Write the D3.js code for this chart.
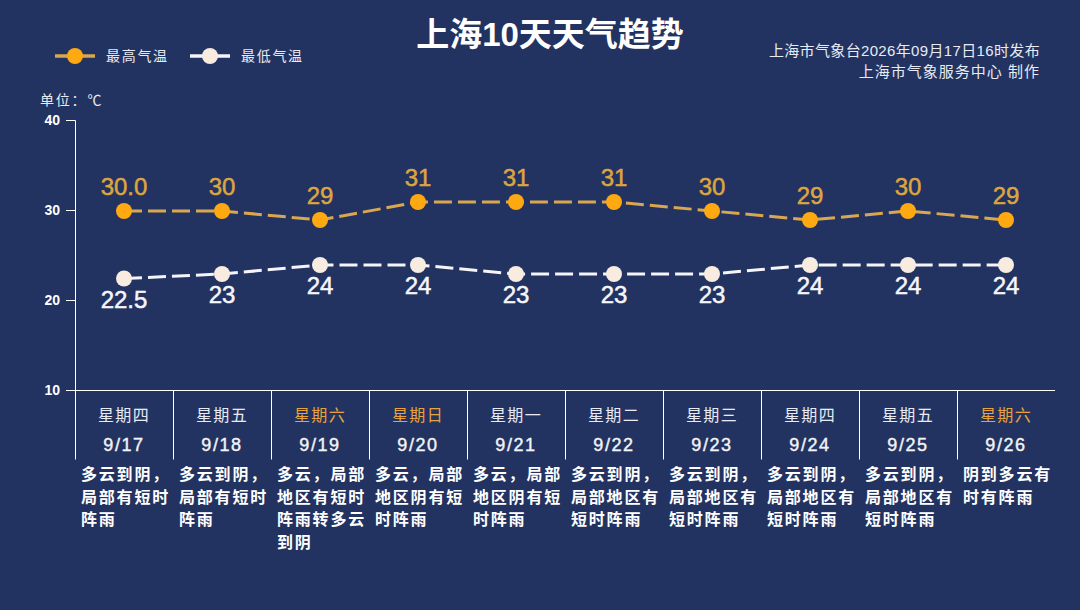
<!DOCTYPE html>
<html>
<head>
<meta charset="utf-8">
<script src="https://cdn.jsdelivr.net/npm/d3@7"></script>
<style>
  html, body { margin: 0; padding: 0; background: #223361; }
  svg { display: block; }
  text { font-family: "Liberation Sans", "Noto Sans CJK SC", sans-serif; }
</style>
</head>
<body>
<svg id="chart"></svg>
<script>
const dates = ['9/17', '9/18', '9/19', '9/20', '9/21', '9/22', '9/23', '9/24', '9/25', '9/26'];
const weekdays = ['星期四', '星期五', '星期六', '星期日', '星期一', '星期二', '星期三', '星期四', '星期五', '星期六'];
const highs = [30.0, 30, 29, 31, 31, 31, 30, 29, 30, 29];
const lows = [22.5, 23, 24, 24, 23, 23, 23, 24, 24, 24];
const highLabels = ['30.0', '30', '29', '31', '31', '31', '30', '29', '30', '29'];
const lowLabels = ['22.5', '23', '24', '24', '23', '23', '23', '24', '24', '24'];
const forecasts = [
   ['多云到阴，', '局部有短时', '阵雨'],
   ['多云到阴，', '局部有短时', '阵雨'],
   ['多云，局部', '地区有短时', '阵雨转多云', '到阴'],
   ['多云，局部', '地区阴有短', '时阵雨'],
   ['多云，局部', '地区阴有短', '时阵雨'],
   ['多云到阴，', '局部地区有', '短时阵雨'],
   ['多云到阴，', '局部地区有', '短时阵雨'],
   ['多云到阴，', '局部地区有', '短时阵雨'],
   ['多云到阴，', '局部地区有', '短时阵雨'],
   ['阴到多云有', '时有阵雨'],
];
const yTicks = [10, 20, 30, 40];

const width = 1080, height = 610;
const highLine = '#d9a750', highDot = '#ffa912', highText = '#dda53f';
const lowLine = '#f4f4fa', lowDot = '#f8ece0';
const weekendText = '#e8a33d';
const plotLeft = 75, plotRight = 1055, plotTop = 120, plotBottom = 390;

const svg = d3.select('#chart').attr('width', width).attr('height', height);

const xScale = d3.scaleBand().domain(d3.range(dates.length)).range([plotLeft, plotRight]);
const yScale = d3.scaleLinear().domain([10, 40]).range([plotBottom, plotTop]);
const cx = (i) => xScale(i) + xScale.bandwidth() / 2;

// title and credits
svg.append('text').attr('x', 550).attr('y', 46).attr('text-anchor', 'middle')
   .attr('font-size', 33).attr('font-weight', 700).attr('fill', '#fff').text('上海10天天气趋势');
svg.append('text').attr('x', 1040).attr('y', 56).attr('text-anchor', 'end')
   .attr('font-size', 15).attr('letter-spacing', 0.35).attr('fill', '#e8ebf3').text('上海市气象台2026年09月17日16时发布');
svg.append('text').attr('x', 1040).attr('y', 77).attr('text-anchor', 'end')
   .attr('font-size', 15).attr('letter-spacing', 1).attr('fill', '#e8ebf3').text('上海市气象服务中心  制作');

// legend
const legendItems = [
   { name: '最高气温', x: 55, line: highLine, dot: highDot },
   { name: '最低气温', x: 190, line: lowLine, dot: lowDot },
];
const legend = svg.selectAll('.legend').data(legendItems).join('g')
   .attr('class', 'legend')
   .attr('transform', (d) => `translate(${d.x}, 56)`);
legend.append('line').attr('x1', 0).attr('x2', 40)
   .attr('stroke', (d) => d.line).attr('stroke-width', 3.5);
legend.append('circle').attr('cx', 20).attr('r', 8).attr('fill', (d) => d.dot);
legend.append('text').attr('x', 51).attr('y', 5).attr('font-size', 14)
   .attr('letter-spacing', 1.7).attr('fill', '#e8ebf3').text((d) => d.name);

svg.append('text').attr('x', 40).attr('y', 105).attr('font-size', 14).attr('letter-spacing', 1.8)
   .attr('fill', '#e8ebf3').text('单位：℃');

// y axis
const yAxis = svg.append('g').attr('transform', `translate(${plotLeft}, 0)`)
   .call(d3.axisLeft(yScale).tickValues(yTicks).tickSize(9).tickPadding(6));
yAxis.attr('font-family', null);
yAxis.selectAll('path, line').attr('stroke', '#fff').attr('stroke-width', 1);
yAxis.selectAll('text').attr('font-size', 14).attr('font-weight', 700).attr('fill', '#fff');

// table under the plot
svg.append('line').attr('x1', plotLeft).attr('x2', plotRight).attr('y1', plotBottom + 0.5).attr('y2', plotBottom + 0.5)
   .attr('stroke', '#fff');
svg.selectAll('.sep').data(d3.range(dates.length)).join('line')
   .attr('class', 'sep')
   .attr('x1', (i) => xScale(i) + 0.5).attr('x2', (i) => xScale(i) + 0.5)
   .attr('y1', plotBottom).attr('y2', 459.5)
   .attr('stroke', '#fff');

svg.selectAll('.weekday').data(weekdays).join('text')
   .attr('class', 'weekday')
   .attr('x', (d, i) => cx(i)).attr('y', 421).attr('text-anchor', 'middle')
   .attr('font-size', 16)
   .attr('letter-spacing', 1.4)
   .attr('fill', (d, i) => (d === '星期六' || d === '星期日' ? weekendText : '#e8ebf3'))
   .text((d) => d);
svg.selectAll('.date').data(dates).join('text')
   .attr('class', 'date')
   .attr('x', (d, i) => cx(i)).attr('y', 451).attr('text-anchor', 'middle')
   .attr('font-size', 18).attr('letter-spacing', 1.6)
   .attr('fill', '#f2f4f8').attr('stroke', '#f2f4f8').attr('stroke-width', 0.4)
   .text((d) => d);

const forecast = svg.selectAll('.forecast').data(forecasts).join('text')
   .attr('class', 'forecast')
   .attr('font-size', 16).attr('font-weight', 700).attr('letter-spacing', 1.8)
   .attr('fill', '#fff');
forecast.selectAll('tspan').data((d, i) => d.map((t) => ({ t, i }))).join('tspan')
   .attr('x', (d) => xScale(d.i) + 6)
   .attr('y', (d, j) => 480 + j * 22.5)
   .text((d) => d.t);

// temperature lines, one pixel below the axis position like the original
const lineGen = d3.line().x((d, i) => cx(i)).y((d) => yScale(d) + 1);
const series = [
   { values: highs, labels: highLabels, line: highLine, dot: highDot, text: highText, dy: -15 },
   { values: lows, labels: lowLabels, line: lowLine, dot: lowDot, text: '#f6f6fa', dy: 30 },
];
series.forEach((s) => {
   svg.append('path').datum(s.values).attr('d', lineGen)
      .attr('fill', 'none').attr('stroke', s.line).attr('stroke-width', 3)
      .attr('stroke-dasharray', '18 6');
   svg.append('g').selectAll('circle').data(s.values).join('circle')
      .attr('cx', (d, i) => cx(i)).attr('cy', (d) => yScale(d) + 1).attr('r', 8)
      .attr('fill', s.dot);
   svg.append('g').selectAll('text').data(s.values).join('text')
      .attr('x', (d, i) => cx(i)).attr('y', (d) => yScale(d) + s.dy)
      .attr('text-anchor', 'middle').attr('font-size', 24)
      .attr('fill', s.text).attr('stroke', s.text).attr('stroke-width', 0.5)
      .text((d, i) => s.labels[i]);
});
</script>
</body>
</html>
